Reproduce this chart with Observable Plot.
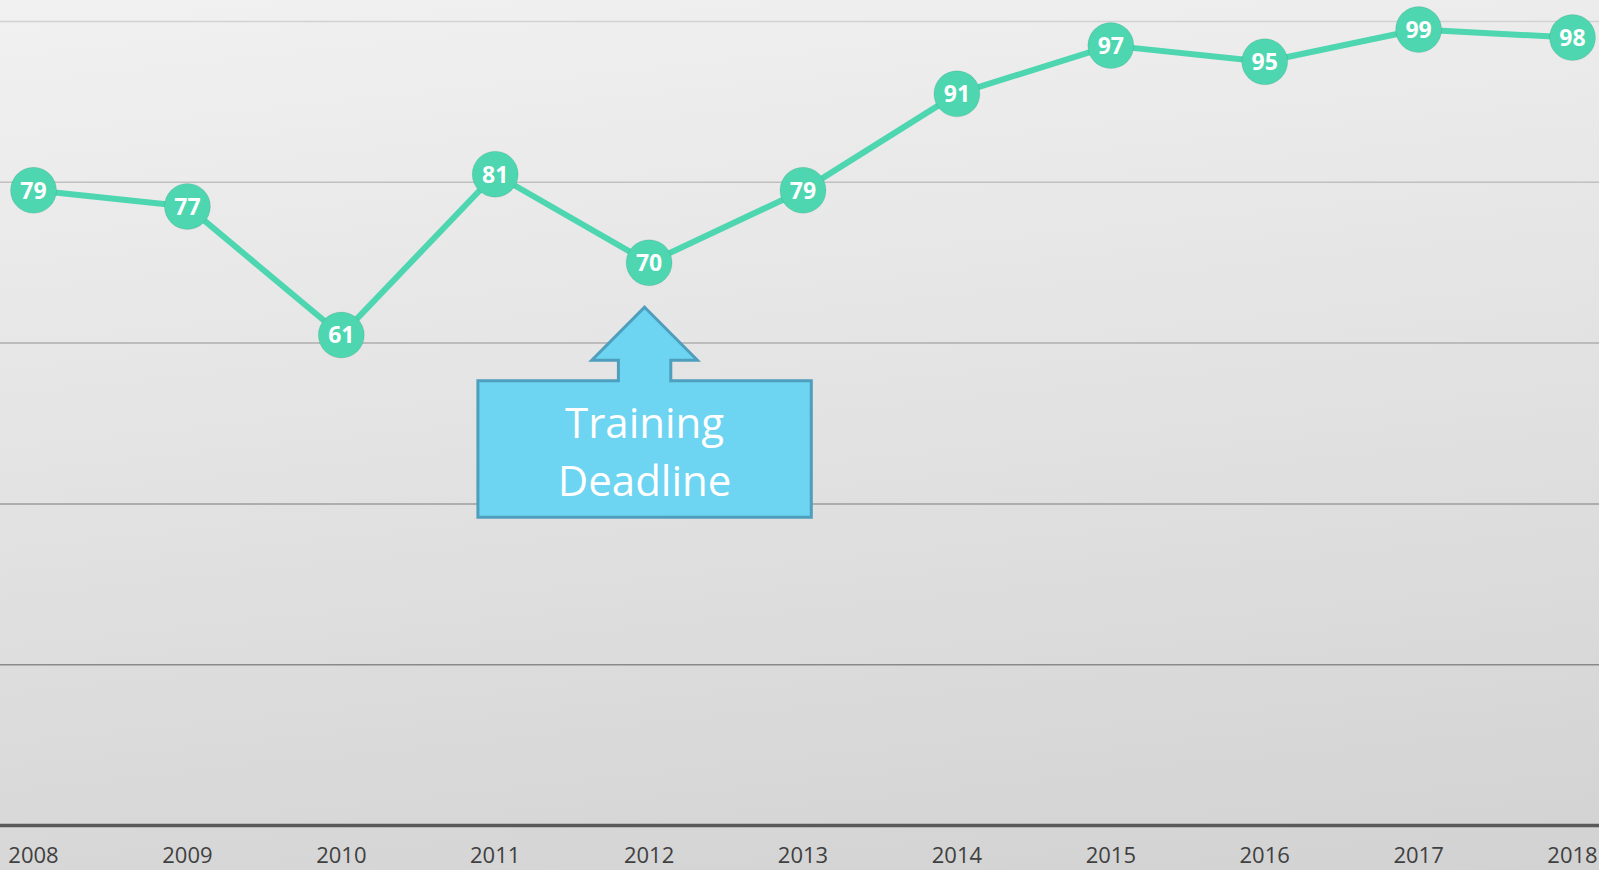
<!DOCTYPE html>
<html><head><meta charset="utf-8">
<script src="https://cdn.jsdelivr.net/npm/d3@7"></script>
<script src="https://cdn.jsdelivr.net/npm/@observablehq/plot@0.6"></script>
<style>
html,body{margin:0;padding:0;overflow:hidden;background:#e4e4e4;}
#chart{width:1599px;height:870px;}
</style></head><body><div id="chart"></div>
<script>
const years = [2008, 2009, 2010, 2011, 2012, 2013, 2014, 2015, 2016, 2017, 2018];
const scores = [79, 77, 61, 81, 70, 79, 91, 97, 95, 99, 98];
const gridValues = [20, 40, 60, 80, 100];
const calloutYear = 2012;
const calloutLines = ["Training", "Deadline"];

const data = years.map((year, i) => ({year, score: scores[i]}));
const FONT = "'Open Sans', 'Noto Sans', sans-serif";
const GREEN = "#4dd6b0";
const gridShade = d3.interpolateRgb("#787878", "#d2d2d2");

const plot = Plot.plot({
  width: 1599, height: 870,
  marginTop: 21, marginBottom: 45, marginLeft: 0, marginRight: 0,
  style: {
    background: "linear-gradient(174deg, #f1f1f1 0%, #e2e2e2 50%, #d2d2d2 100%)",
    fontFamily: FONT, fontSize: "22px", color: "#404040", overflow: "visible"
  },
  x: {domain: [2008, 2018], range: [33, 1572], ticks: years, tickFormat: d => String(d),
      tickSize: 0, tickPadding: 22, label: null},
  y: {domain: [0, 100], axis: null},
  color: {type: "identity"},
  marks: [
    Plot.ruleY(gridValues, {stroke: d => gridShade(d / 100), strokeWidth: 1.5}),
    Plot.ruleY([0], {stroke: "#595959", strokeWidth: 3.5}),
    Plot.line(data, {x: "year", y: "score", stroke: GREEN, strokeWidth: 6}),
    Plot.dot(data, {x: "year", y: "score", r: 23, fill: GREEN, stroke: "rgba(0,0,0,0.08)", strokeWidth: 1}),
    Plot.text(data, {x: "year", y: "score", text: d => String(d.score), fill: "white",
      fontWeight: "bold", fontSize: 23, dy: 1})
  ]
});
document.getElementById("chart").appendChild(plot);

// Callout anchored to the data point of calloutYear, via the plot's scales
const xs = plot.scale("x"), ys = plot.scale("y");
const ax = xs.apply(calloutYear) - 4;
const ay = ys.apply(scores[years.indexOf(calloutYear)]);
const tip = 45, headBase = 98, boxTop = 118.5, boxBottom = 255;
const headHalf = 52.8, stemHalf = 26.2, boxHalf = 166.7;
const pts = [
  [0, tip], [headHalf, headBase], [stemHalf, headBase], [stemHalf, boxTop],
  [boxHalf, boxTop], [boxHalf, boxBottom], [-boxHalf, boxBottom], [-boxHalf, boxTop],
  [-stemHalf, boxTop], [-stemHalf, headBase], [-headHalf, headBase]
];
const svg = d3.select(plot);
const g = svg.append("g");
g.append("path")
  .attr("d", "M" + pts.map(p => (ax + p[0]) + "," + (ay + p[1])).join("L") + "Z")
  .attr("fill", "#6dd4f1").attr("stroke", "#4e9fbd").attr("stroke-width", 3)
  .attr("stroke-linejoin", "miter");
const txt = g.append("text").attr("text-anchor", "middle").attr("fill", "white")
  .attr("font-family", FONT).attr("font-size", 42);
calloutLines.forEach((t, i) => {
  txt.append("tspan").attr("x", ax).attr("y", ay + 175.5 + i * 58).text(t);
});
</script></body></html>
